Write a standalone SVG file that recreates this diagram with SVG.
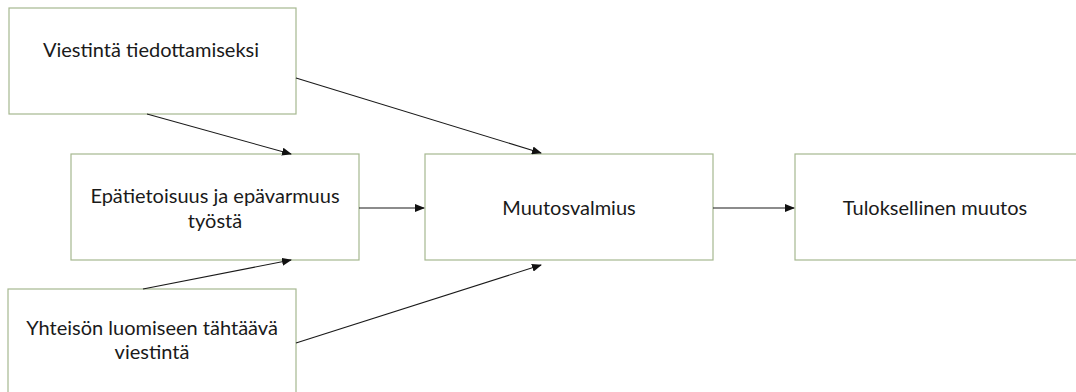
<svg xmlns="http://www.w3.org/2000/svg" width="1076" height="392" viewBox="0 0 1076 392">
<style>
.box{fill:#fff;stroke:#a6b890;stroke-width:1.2}
.t{font-family:Lato,"Liberation Sans",sans-serif;font-size:20px;fill:#1a1a1a;text-anchor:middle}
.c{stroke:#1a1a1a;stroke-width:1.1;fill:none;marker-end:url(#ah)}
</style>
<defs>
<marker id="ah" markerWidth="10" markerHeight="8" refX="9" refY="4" orient="auto" markerUnits="userSpaceOnUse">
<path d="M0,0 L10,4 L0,8 Z" fill="#111"/>
</marker>
</defs>
<rect width="1076" height="392" fill="#fff"/>
<g id="n1"><rect class="box" x="9" y="8" width="287" height="106"/><text class="t" x="151" y="57">Viestintä tiedottamiseksi</text></g>
<g id="n2"><rect class="box" x="71" y="154" width="288" height="106"/><text class="t" x="215" y="203">Epätietoisuus ja epävarmuus</text><text class="t" x="215" y="228">työstä</text></g>
<g id="n3"><rect class="box" x="8" y="289" width="288" height="110"/><text class="t" x="152" y="335">Yhteisön luomiseen tähtäävä</text><text class="t" x="152" y="359">viestintä</text></g>
<g id="n4"><rect class="box" x="425" y="154" width="288" height="106"/><text class="t" x="569" y="215">Muutosvalmius</text></g>
<g id="n5"><rect class="box" x="795" y="154" width="290" height="106"/><text class="t" x="935" y="215">Tuloksellinen muutos</text></g>
<g id="connectors">
<line class="c" x1="147" y1="114" x2="291" y2="154"/>
<line class="c" x1="296" y1="78" x2="541" y2="153"/>
<line class="c" x1="359" y1="208" x2="424" y2="208"/>
<line class="c" x1="713" y1="208" x2="794" y2="208"/>
<line class="c" x1="143" y1="289" x2="291" y2="260"/>
<line class="c" x1="296" y1="343" x2="541" y2="265"/>
</g>
</svg>
